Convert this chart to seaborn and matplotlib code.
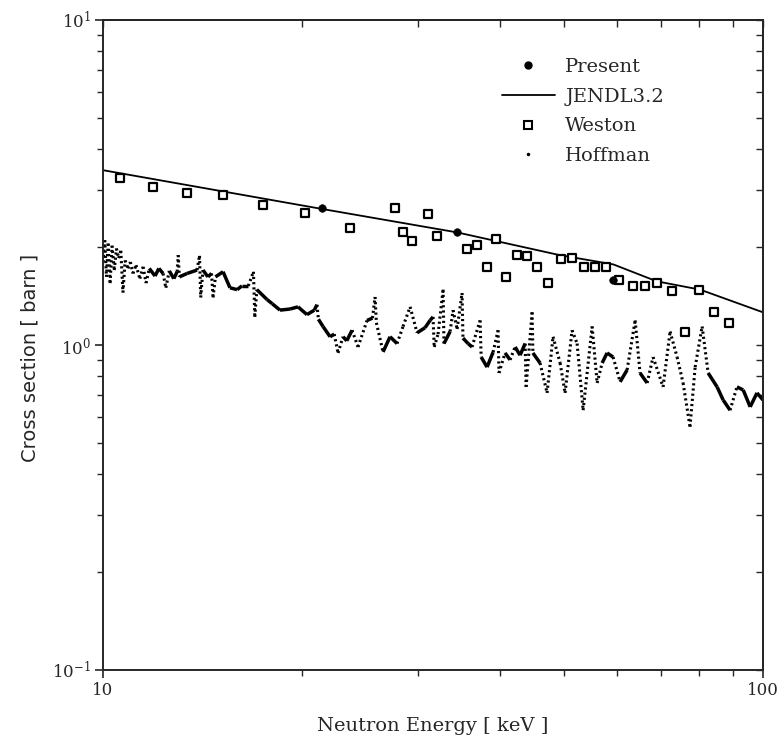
import numpy as np
import seaborn as sns
import matplotlib.pyplot as plt
from matplotlib.collections import LineCollection
from matplotlib.lines import Line2D
from matplotlib.ticker import NullFormatter, LogLocator, FixedLocator

# --- data (energy in keV, cross section in barn) ---
present_e = [21.5, 34.4, 59.3]
present_xs = [2.64, 2.23, 1.58]

jendl_e = [10.0, 21.5, 34.4, 49.2, 59.3, 69.0, 80.3, 100.0]
jendl_xs = [3.45, 2.62, 2.22, 1.89, 1.77, 1.57, 1.48, 1.26]

weston_e = [10.6, 11.9, 13.4, 15.2, 17.5, 20.2, 23.7, 27.7, 28.5, 29.4, 31.1, 32.1,
            35.6, 36.9, 39.4, 38.2, 40.8, 42.4, 43.9, 45.5, 47.2, 49.4, 51.4, 53.6,
            55.7, 57.8, 60.5, 63.5, 66.3, 69.1, 72.8, 80.0, 84.3, 88.9, 76.2]
weston_xs = [3.27, 3.06, 2.94, 2.89, 2.70, 2.55, 2.29, 2.64, 2.23, 2.09, 2.53, 2.17,
             1.97, 2.03, 2.12, 1.74, 1.62, 1.89, 1.88, 1.74, 1.55, 1.84, 1.85, 1.74,
             1.74, 1.74, 1.585, 1.52, 1.52, 1.55, 1.47, 1.48, 1.26, 1.17, 1.10]

hoffman_e = [10.00, 10.06, 10.12, 10.18, 10.25, 10.32, 10.40, 10.48, 10.56, 10.64,
             10.72, 10.80, 10.91, 11.00, 11.10, 11.22, 11.37, 11.50, 11.62, 11.75,
             11.99, 12.15, 12.33, 12.45, 12.60, 12.80, 12.95, 13.00, 13.05, 13.41,
             13.88, 14.00, 14.06, 14.17, 14.42, 14.60, 14.68, 14.80, 15.20, 15.57,
             15.96, 16.24, 16.60, 16.90, 16.98, 17.10, 17.72, 18.04, 18.54, 19.20,
             19.74, 20.37, 20.90, 21.09, 21.20, 21.54, 22.08, 22.40, 22.70, 23.10,
             23.40, 23.84, 24.34, 25.12, 25.60, 25.83, 25.95, 26.56, 27.22, 27.89,
             28.48, 29.19, 29.91, 30.75, 31.29, 31.62, 31.75, 32.18, 32.75, 32.85,
             33.56, 33.91, 34.39, 34.99, 35.10, 35.73, 36.23, 37.26, 37.40, 38.18,
             38.99, 39.67, 39.80, 40.65, 41.37, 42.10, 42.84, 43.60, 43.75, 44.67,
             44.80, 45.93, 47.07, 48.06, 49.26, 50.12, 51.36, 52.27, 53.38, 55.08,
             56.05, 57.04, 58.03, 59.26, 60.73, 62.23, 64.00, 65.10, 66.73, 68.13,
             70.55, 72.30, 74.08, 75.65, 77.50, 78.90, 80.85, 82.56, 85.18, 87.00,
             89.13, 91.30, 93.30, 95.60, 97.90, 100.0]
hoffman_xs = [1.80, 2.10, 1.62, 2.05, 1.55, 2.02, 1.70, 1.98, 1.85, 1.95,
              1.45, 1.82, 1.72, 1.80, 1.66, 1.76, 1.60, 1.74, 1.55, 1.72,
              1.63, 1.72, 1.66, 1.50, 1.69, 1.60, 1.68, 1.89, 1.62, 1.66,
              1.70, 1.88, 1.40, 1.70, 1.62, 1.66, 1.40, 1.62, 1.68, 1.50,
              1.48, 1.52, 1.52, 1.68, 1.22, 1.48, 1.38, 1.34, 1.28, 1.29,
              1.31, 1.24, 1.28, 1.33, 1.20, 1.14, 1.06, 1.08, 0.945, 1.06,
              1.03, 1.11, 0.986, 1.19, 1.21, 1.405, 1.17, 0.952, 1.06, 1.01,
              1.14, 1.31, 1.09, 1.13, 1.19, 1.22, 0.986, 1.08, 1.48, 1.01,
              1.10, 1.28, 1.12, 1.445, 1.05, 1.01, 0.986, 1.19, 0.918, 0.855,
              0.95, 1.11, 0.82, 0.945, 0.90, 0.986, 0.93, 1.01, 0.743, 1.26,
              0.945, 0.88, 0.712, 1.06, 0.88, 0.712, 1.11, 1.01, 0.63, 1.14,
              0.764, 0.88, 0.945, 0.918, 0.77, 0.838, 1.19, 0.82, 0.764, 0.918,
              0.743, 1.10, 0.918, 0.764, 0.56, 0.855, 1.14, 0.82, 0.743, 0.677,
              0.63, 0.743, 0.727, 0.645, 0.712, 0.677]

sns.set_style('ticks')
plt.rcParams['font.family'] = ['DejaVu Serif']
plt.rcParams['mathtext.fontset'] = 'dejavuserif'

fig = plt.figure(figsize=(7.8, 7.43), dpi=100)
ax = fig.add_axes([0.1321, 0.0983, 0.8462, 0.8748])
ax.set_xscale('log')
ax.set_yscale('log')

# JENDL3.2 evaluated curve
sns.lineplot(x=jendl_e, y=jendl_xs, color='black', linewidth=1.3, ax=ax)

# Hoffman: dense points -> solid where flat, dotted where steep
pts = np.column_stack([np.log10(hoffman_e), np.log10(hoffman_xs)])
dx = np.abs(np.diff(pts[:, 0])) * 660
dy = np.abs(np.diff(pts[:, 1])) * 325
steep = dy > 2.5 * dx
segs = np.stack([np.column_stack([hoffman_e[:-1], hoffman_xs[:-1]]),
                 np.column_stack([hoffman_e[1:], hoffman_xs[1:]])], axis=1)
styles = [(0, (0.7, 1.0)) if s else 'solid' for s in steep]
widths = [2.2 if s else 2.5 for s in steep]
lc = LineCollection(segs, colors='black', linestyles=styles, linewidths=widths,
                    capstyle='butt')
ax.add_collection(lc)

# Weston (open squares) and present (filled circles)
sns.scatterplot(x=weston_e, y=weston_xs, marker='s', s=40, facecolor='white',
                edgecolor='black', linewidth=1.6, ax=ax, zorder=3)
sns.scatterplot(x=present_e, y=present_xs, marker='o', s=30, color='black',
                edgecolor='black', ax=ax, zorder=4)

ax.set_xlim(10, 100)
ax.set_ylim(0.1, 10)

# ticks: outward on left/bottom, inward on top/right
ax.xaxis.set_major_locator(FixedLocator([10, 100]))
ax.set_xticklabels(['10', '100'])
ax.xaxis.set_minor_locator(LogLocator(base=10, subs=np.arange(2, 10)))
ax.xaxis.set_minor_formatter(NullFormatter())
ax.yaxis.set_major_locator(LogLocator(base=10))
ax.yaxis.set_minor_locator(LogLocator(base=10, subs=np.arange(2, 10)))
ax.yaxis.set_minor_formatter(NullFormatter())
ax.tick_params(which='major', direction='out', length=6, width=1.2, labelsize=12,
               top=False, right=False, pad=3)
ax.tick_params(which='minor', direction='out', length=4, width=1.0,
               top=False, right=False)
for sp in ax.spines.values():
    sp.set_linewidth(1.4)

top = ax.secondary_xaxis('top')
top.xaxis.set_major_locator(FixedLocator([10, 100]))
top.xaxis.set_minor_locator(LogLocator(base=10, subs=np.arange(2, 10)))
top.xaxis.set_major_formatter(NullFormatter())
top.xaxis.set_minor_formatter(NullFormatter())
top.tick_params(which='both', direction='in', length=5, width=1.0)
top.spines['top'].set_linewidth(1.4)

right = ax.secondary_yaxis('right')
right.yaxis.set_major_locator(LogLocator(base=10))
right.yaxis.set_minor_locator(LogLocator(base=10, subs=np.arange(2, 10)))
right.yaxis.set_major_formatter(NullFormatter())
right.yaxis.set_minor_formatter(NullFormatter())
right.tick_params(which='both', direction='in', length=5, width=1.0)
right.spines['right'].set_linewidth(1.4)

ax.set_xlabel('Neutron Energy [ keV ]', fontsize=14)
ax.set_ylabel('Cross section [ barn ]', fontsize=14, family=['DejaVu Sans'])
ax.xaxis.set_label_coords(0.5, -0.072)
ax.yaxis.set_label_coords(-0.097, 0.48)

handles = [
    Line2D([], [], marker='o', color='black', ls='none', markersize=5),
    Line2D([], [], color='black', lw=1.3),
    Line2D([], [], marker='s', ls='none', markerfacecolor='white',
           markeredgecolor='black', markeredgewidth=1.5, markersize=6),
    Line2D([], [], marker='.', color='black', ls='none', markersize=3),
]
labels = ['Present', 'JENDL3.2', 'Weston', 'Hoffman']
ax.legend(handles, labels, loc='upper left', bbox_to_anchor=(502 / 780, 1 - 58 / 743),
          bbox_transform=fig.transFigure, frameon=False, handlelength=2.7,
          handletextpad=0.55, labelspacing=0.6, fontsize=14, borderpad=0,
          borderaxespad=0)

fig.savefig('out.png', dpi=100)
